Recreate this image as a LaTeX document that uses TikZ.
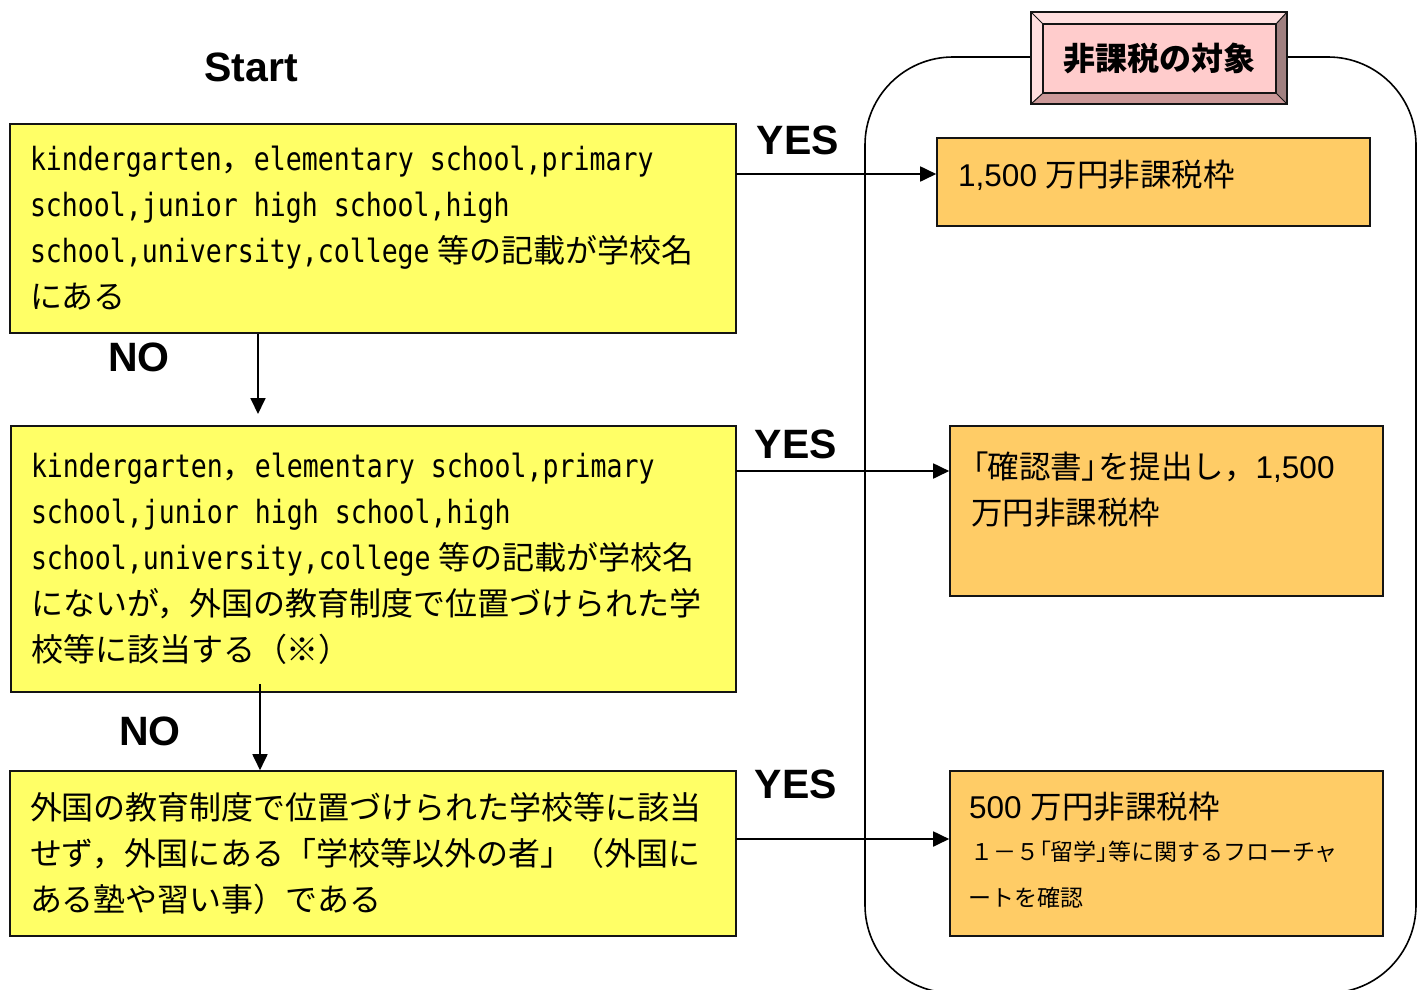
\documentclass[tikz,border=0pt]{standalone}
\usepackage{fontspec}
\setmainfont{Noto Sans CJK JP}
\newfontfamily\jp{Noto Sans CJK JP}
\newfontfamily\jpp[RawFeature=+palt]{Noto Sans CJK JP}
\newfontfamily\lmono[FakeStretch=0.83]{DejaVu Sans Mono}
\newfontfamily\larial{Liberation Sans}
\newcommand{\msp}{\hspace{16pt}}
\usetikzlibrary{arrows.meta}
\definecolor{yellowc}{RGB}{255,255,102}
\definecolor{orangec}{RGB}{255,204,102}
\definecolor{pinkc}{RGB}{255,204,204}
\definecolor{bevlight}{RGB}{255,222,222}
\definecolor{bevdark}{RGB}{160,128,128}
\definecolor{bevmid}{RGB}{204,153,153}
\definecolor{edgec}{RGB}{20,20,20}
\tikzset{
 ybox/.style={draw=edgec, line width=1.6pt, fill=yellowc, align=left, inner xsep=20pt, inner ysep=0pt, font=\jp\fontsize{32}{46}\selectfont},
 obox/.style={draw=edgec, line width=1.6pt, fill=orangec, inner sep=0pt},
 otext/.style={anchor=base west, inner sep=0pt, font=\jp\fontsize{31.5}{40}\selectfont},
 osmall/.style={anchor=base west, inner sep=0pt, font=\jp\fontsize{23}{30}\selectfont},
 lbl/.style={font=\larial\bfseries\fontsize{41}{48}\selectfont, inner sep=0pt},
 arr/.style={line width=1.8pt, -{Triangle[length=16pt,width=15pt]}},
 titlebox/.style={draw=edgec, line width=1.4pt, fill=pinkc, inner sep=0pt, font=\jp\bfseries\fontsize{32}{40}\selectfont},
}
\begin{document}
\begin{tikzpicture}[x=1pt,y=-1pt]
\useasboundingbox[fill=white] (0,0) rectangle (1422,989);
% outer frame
\draw[line width=1.6pt, rounded corners=88pt] (865,57) rectangle (1416,993);
% title bevel box
\fill[bevlight] (1031,12) -- (1287,12) -- (1276,24) -- (1043,24) -- cycle;
\fill[bevlight] (1031,12) -- (1043,24) -- (1043,93) -- (1031,104) -- cycle;
\fill[bevdark] (1287,12) -- (1287,104) -- (1276,93) -- (1276,24) -- cycle;
\fill[bevmid] (1031,104) -- (1287,104) -- (1276,93) -- (1043,93) -- cycle;
\node[titlebox, minimum width=233pt, minimum height=69pt] (title) at (1159.5,58.5) {非課税の対象};
\draw[line width=1.4pt, draw=edgec] (1031,12) rectangle (1287,104);
\draw[line width=1pt, draw=edgec] (1031,12) -- (title.north west) (1287,12) -- (title.north east)
  (1287,104) -- (title.south east) (1031,104) -- (title.south west);
% labels
\node[lbl] (start) at (251,67) {Start};
\node[lbl] (yes1) at (798,140) {YES};
\node[lbl] (yes2) at (796,444) {YES};
\node[lbl] (yes3) at (796,784) {YES};
\node[lbl] (no1) at (139,357) {NO};
\node[lbl] (no2) at (150,731) {NO};
% yellow boxes
\node[ybox, text width=686pt, minimum width=726pt, minimum height=209pt] (b1) at (373,228.5) {%
{\lmono kindergarten}，{\lmono elementary}\msp{\lmono school,primary}\\
{\lmono school,junior}\msp{\lmono high}\msp{\lmono school,high}\\
{\lmono school,university,college}\hspace{8pt}等の記載が学校名\\
にある};
\node[ybox, text width=685pt, minimum width=725pt, minimum height=266pt] (b2) at (373.5,559) {%
{\lmono kindergarten}，{\lmono elementary}\msp{\lmono school,primary}\\
{\lmono school,junior}\msp{\lmono high}\msp{\lmono school,high}\\
{\lmono school,university,college}\hspace{8pt}等の記載が学校名\\
にないが，外国の教育制度で位置づけられた学\\
校等に該当する（※）};
\node[ybox, text width=686pt, minimum width=726pt, minimum height=165pt] (b3) at (373,853.5) {%
外国の教育制度で位置づけられた学校等に該当\\
せず，外国にある「学校等以外の者」（外国に\\
ある塾や習い事）である};
% orange boxes
\node[obox, minimum width=433pt, minimum height=88pt] (o1) at (1153.5,182) {};
\node[obox, minimum width=433pt, minimum height=170pt] (o2) at (1166.5,511) {};
\node[obox, minimum width=433pt, minimum height=165pt] (o3) at (1166.5,853.5) {};
\node[otext] (t1) at (958,186) {{\larial 1,500 }万円非課税枠};
\node[otext] (t2a) at (972,478) {{\jpp 「}確認書{\jpp 」}を提出し，{\larial 1,500}};
\node[otext] (t2b) at (971,524) {万円非課税枠};
\node[otext] (t3a) at (969,818) {{\larial 500 }万円非課税枠};
\node[osmall] (t3b) at (970,860) {１－５{\jpp 「}留学{\jpp 」}等に関するフローチャ};
\node[osmall] (t3c) at (968,906) {ートを確認};
% connectors
\coordinate (n1end) at (258,414);
\draw[arr] (b1.south -| n1end) -- (n1end);
\coordinate (n2start) at (260,684);
\draw[arr] (n2start) -- (n2start |- b3.north);
\coordinate (a1) at (736,174);
\draw[arr] (a1) -- (a1 -| o1.west);
\coordinate (a2) at (736,471);
\draw[arr] (a2) -- (a2 -| o2.west);
\coordinate (a3) at (736,839);
\draw[arr] (a3) -- (a3 -| o3.west);
\end{tikzpicture}
\end{document}
